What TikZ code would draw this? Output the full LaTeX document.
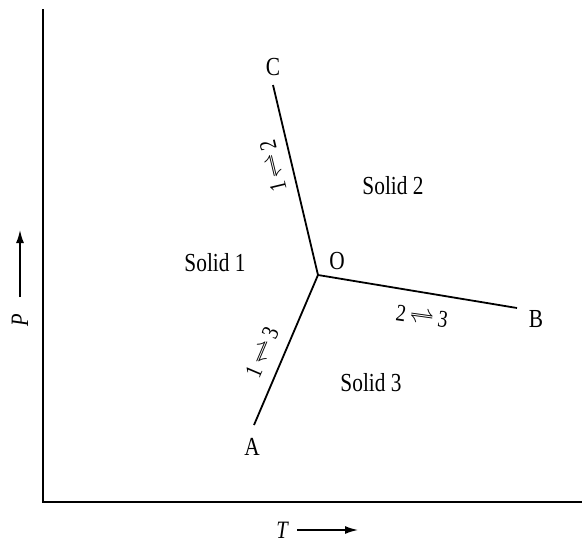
\documentclass[tikz,border=0pt]{standalone}
\usepackage{fontspec}
\setmainfont{Liberation Serif}[FakeStretch=0.82]
\usetikzlibrary{arrows.meta}

\begin{document}
\begin{tikzpicture}[
  x=1pt, y=-1pt,
  axis/.style={line width=1.9pt, draw=black},
  phase/.style={line width=1.8pt, draw=black},
  region/.style={font=\fontsize{26}{30}\selectfont},
  point/.style={font=\fontsize{26}{30}\selectfont, inner sep=0pt},
  equil/.style={font=\fontsize{24}{28}\selectfont, inner sep=0pt},
  varname/.style={font=\fontsize{25}{28}\selectfont\itshape, inner sep=0pt},
  arrow/.style={-{Latex[length=13pt,width=8pt]}, line width=1.6pt}
]
  \useasboundingbox (0,0) rectangle (582,541);

  % axes
  \coordinate (origin) at (43,502);
  \coordinate (ptop) at (43,9);
  \coordinate (tend) at (582,502);
  \draw[axis] (ptop) -- (origin) -- (tend);

  \node[varname] (tlabel) at (282,530) {T};
  \coordinate (tfrom) at (297,530);
  \coordinate (tto) at (358,530);
  \draw[arrow] (tfrom) -- (tto);

  \node[varname, rotate=90] (plabel) at (20,320) {P};
  \coordinate (pfrom) at (20,297);
  \coordinate (pto) at (20,230);
  \draw[arrow] (pfrom) -- (pto);

  % triple point and phase boundaries
  \coordinate (triple) at (318,275);
  \coordinate (cend) at (273,85);
  \coordinate (aend) at (254,425);
  \coordinate (bend) at (517,308);
  \draw[phase] (triple) -- (cend);
  \draw[phase] (triple) -- (aend);
  \draw[phase] (triple) -- (bend);

  \node[point] (O) at (337,261) {O};
  \node[point] (C) at (273,67) {C};
  \node[point] (A) at (252,447) {A};
  \node[point] (B) at (536,319) {B};

  \node[equil, rotate=103.5] (eq12) at (273,166) {1\,$\rightleftharpoons$\,2};
  \node[equil, rotate=67] (eq13) at (262,352) {1\,$\rightleftharpoons$\,3};
  \node[equil, rotate=-8] (eq23) at (422,316) {2\,$\rightleftharpoons$\,3};

  % regions
  \node[region] (solid1) at (215,263) {Solid 1};
  \node[region] (solid2) at (393,186) {Solid 2};
  \node[region] (solid3) at (371,383) {Solid 3};
\end{tikzpicture}
\end{document}
